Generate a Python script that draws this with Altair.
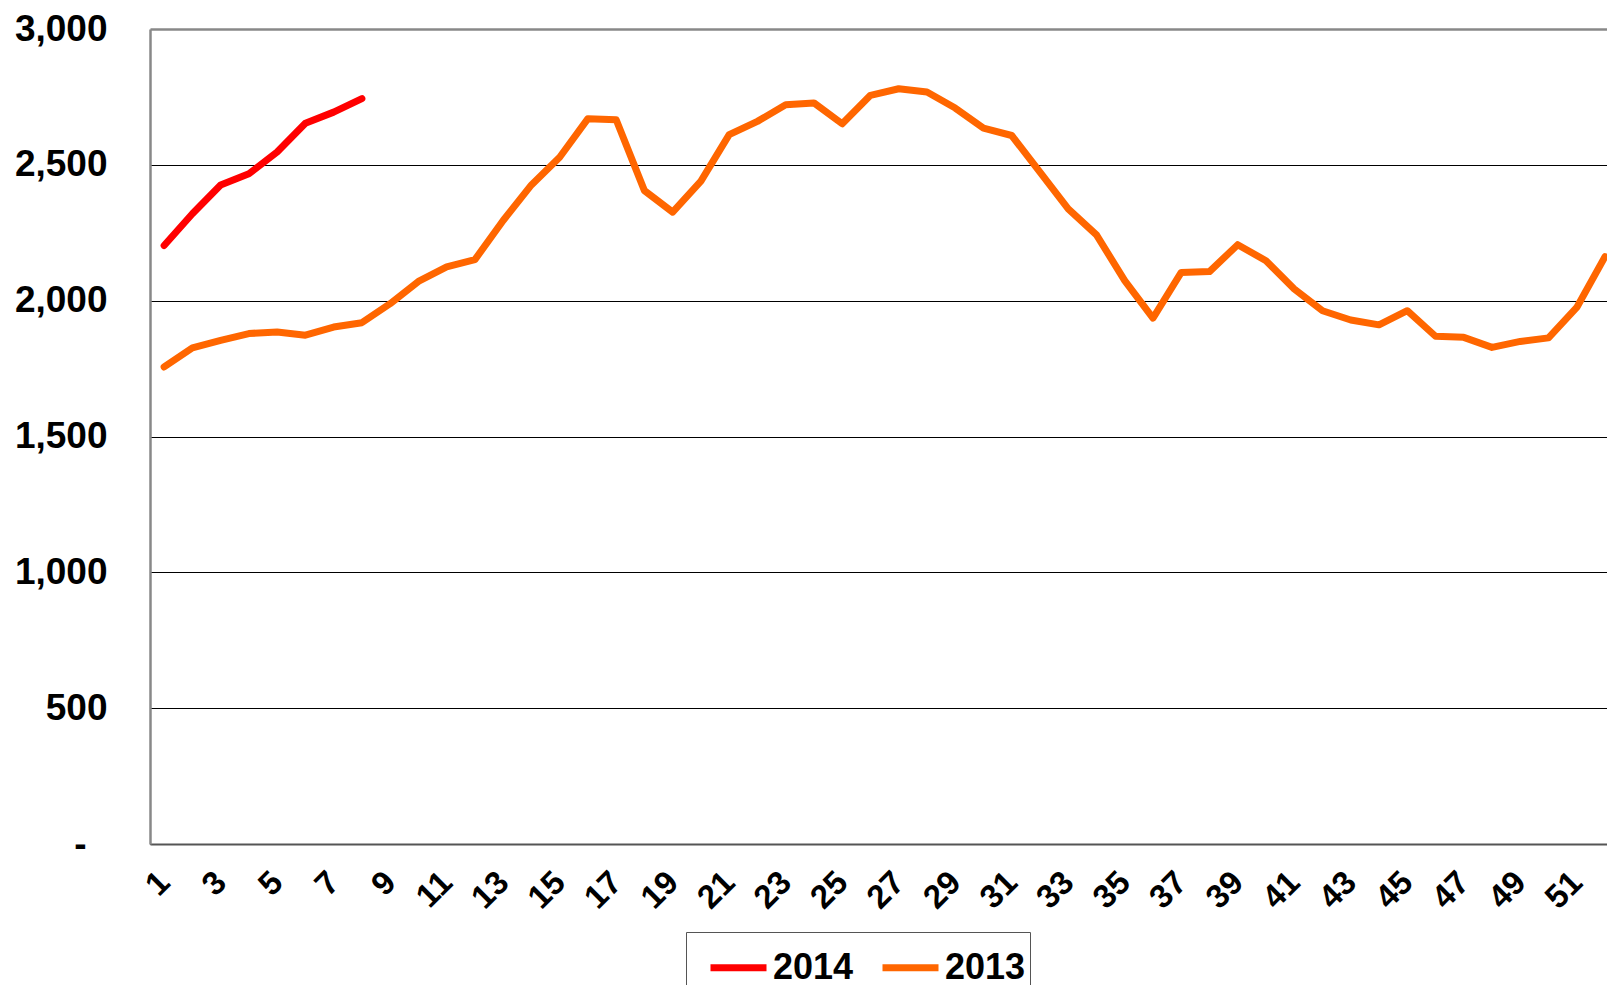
import altair as alt
import pandas as pd

# ---- data ----
weeks = list(range(1, 53))
values_2013 = [1756, 1826, 1854, 1879, 1885, 1873, 1903, 1919, 1989, 2071,
               2124, 2151, 2295, 2426, 2528, 2670, 2666, 2405, 2326, 2440,
               2611, 2660, 2721, 2728, 2651, 2756, 2780, 2768, 2709, 2635,
               2608, 2473, 2338, 2242, 2074, 1936, 2104, 2107, 2206, 2147,
               2043, 1963, 1929, 1911, 1963, 1869, 1865, 1828, 1850, 1863,
               1975, 2162]
values_2014 = [2203, 2320, 2426, 2467, 2547, 2653, 2694, 2744]
series_names = ["2014", "2013"]
series_colors = ["#FF0000", "#FF6600"]
x_tick_values = list(range(1, 52, 2))
y_tick_values = [0, 500, 1000, 1500, 2000, 2500, 3000]

rows = []
for w, v in zip(weeks, values_2014):
    rows.append({"week": w, "value": v, "year": "2014"})
for w, v in zip(weeks, values_2013):
    rows.append({"week": w, "value": v, "year": "2013"})
df = pd.DataFrame(rows)

FONT = "Liberation Sans"

chart = alt.Chart(df).mark_line(
    strokeWidth=7, strokeCap="round", strokeJoin="round"
).encode(
    x=alt.X(
        "week:Q",
        scale=alt.Scale(domain=[0.5, 52.07], nice=False, zero=False),
        axis=alt.Axis(
            values=x_tick_values, format="d", title=None,
            labelAngle=-45, labelAlign="right", labelBaseline="middle",
            labelPadding=33, ticks=False, grid=False,
            domainColor="#555555", domainWidth=2,
            labelFont=FONT, labelFontSize=33, labelFontWeight="bold",
            labelColor="black", labelFlush=False, labelOverlap=False,
        ),
    ),
    y=alt.Y(
        "value:Q",
        scale=alt.Scale(domain=[0, 3000], nice=False),
        axis=alt.Axis(
            values=y_tick_values, title=None,
            labelExpr="datum.value == 0 ? '-' : format(datum.value, ',')",
            labelPadding={"condition": {"test": "datum.value === 0", "value": 64}, "value": 43},
            ticks=False,
            domainColor="#888888", domainWidth=2.5,
            gridColor={"condition": {"test": "datum.value === 3000", "value": "#888888"}, "value": "black"},
            gridWidth={"condition": {"test": "datum.value === 3000", "value": 2.5}, "value": 1},
            labelFont=FONT, labelFontSize=37, labelFontWeight="bold",
            labelColor="black", labelFlush=False, labelOverlap=False,
        ),
    ),
    color=alt.Color(
        "year:N",
        scale=alt.Scale(domain=series_names, range=series_colors),
        legend=alt.Legend(
            orient="none", legendX=536, legendY=903, direction="horizontal",
            title=None, symbolType="stroke", symbolSize=3136,
            symbolStrokeWidth=7, labelFont=FONT, labelFontSize=36,
            labelFontWeight="bold", labelColor="black", padding=4,
            strokeColor="#555555", fillColor="white",
            symbolOffset=17, labelOffset=3, columnPadding=8,
        ),
    ),
).properties(
    width=1457,
    height=815,
    autosize=alt.AutoSizeParams(type="none"),
    padding={"left": 142, "top": 21, "right": 0, "bottom": 141},
).configure_view(
    stroke=None
).configure(
    background="white"
)

chart.save("out.html", embed_options={"renderer": "svg", "actions": False})
